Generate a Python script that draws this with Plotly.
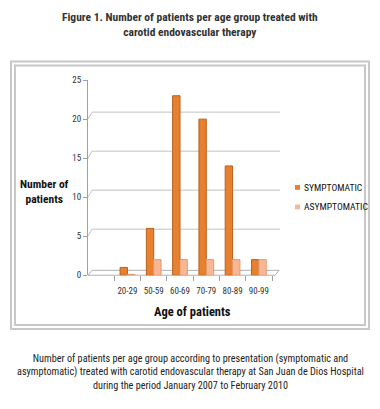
import plotly.graph_objects as go

W, H = 380, 409

categories = ["20-29", "50-59", "60-69", "70-79", "80-89", "90-99"]
symptomatic = [1, 6, 23, 20, 14, 2]
asymptomatic = [0.1, 2, 2, 2, 2, 2]
y_ticks = [0, 5, 10, 15, 20, 25]
series_names = ["SYMPTOMATIC", "ASYMPTOMATIC"]

COND = "Roboto Condensed, DejaVu Sans Condensed, sans-serif"

SYM_COLOR = "#E8812F"
SYM_EDGE = "#B9601C"
ASYM_COLOR = "#F8B794"
ASYM_EDGE = "#E6996E"
FRAME = "#c8c8c8"
GRID = "#c2c2c2"


def px(x):
    return x / W


def py(y):
    return 1 - y / H


fig = go.Figure()
fig.add_trace(go.Bar(
    x=categories, y=symptomatic, name=series_names[0],
    marker=dict(color=SYM_COLOR, line=dict(color=SYM_EDGE, width=1)),
))
fig.add_trace(go.Bar(
    x=categories, y=asymptomatic, name=series_names[1],
    marker=dict(color=ASYM_COLOR, line=dict(color=ASYM_EDGE, width=1)),
))

shapes = [
    # double frame
    dict(type="rect", xref="paper", yref="paper", x0=px(11), x1=px(369), y0=py(332), y1=py(58),
         line=dict(color=FRAME, width=2)),
    dict(type="rect", xref="paper", yref="paper", x0=px(15), x1=px(365), y0=py(328), y1=py(62),
         line=dict(color=FRAME, width=2)),
    # 3-D floor
    dict(type="path", xref="paper", yref="paper",
         path=f"M {px(88)} {py(277)} L {px(275)} {py(277)} L {px(279)} {py(272)} L {px(92)} {py(272)} Z",
         line=dict(color="#b0b0b0", width=1), layer="below"),
]
# back-wall gridlines, offset up from the front-axis ticks
for v in y_ticks[1:]:
    shapes.append(dict(type="line", xref="paper", yref="y", x0=px(92), x1=px(280),
                       ysizemode="pixel", yanchor=v, y0=7, y1=7,
                       line=dict(color=GRID, width=1), layer="below"))
    shapes.append(dict(type="line", xref="paper", yref="y", x0=px(88), x1=px(92),
                       ysizemode="pixel", yanchor=v, y0=0, y1=7,
                       line=dict(color=GRID, width=1), layer="below"))

# compact legend: small square keys right next to the labels
legend_colors = [SYM_COLOR, ASYM_COLOR]
legend_y = [187, 207]
annotations = []
for name, col, ly in zip(series_names, legend_colors, legend_y):
    shapes.append(dict(type="rect", xref="paper", yref="paper",
                       x0=px(295), x1=px(300), y0=py(ly + 2.5), y1=py(ly - 2.5),
                       fillcolor=col, line=dict(width=0)))
    annotations.append(dict(text=name, x=px(302), y=py(ly), xref="paper", yref="paper",
                            xanchor="left", yanchor="middle", showarrow=False,
                            font=dict(family=COND, size=9.6, color="#111111")))

annotations += [
    dict(text="<b>Figure 1. Number of patients per age group treated with<br>carotid endovascular therapy</b>",
         x=px(190), y=py(20.5), xref="paper", yref="paper", showarrow=False,
         xanchor="center", yanchor="middle",
         font=dict(family=COND, size=11.5, color="#333333"), align="center"),
    dict(text="<b>Number of<br>patients</b>", x=px(44), y=py(191), xref="paper", yref="paper",
         showarrow=False, xanchor="center", yanchor="middle",
         font=dict(family=COND, size=11.5, color="#111111"), align="center"),
    dict(text="<b>Age of patients</b>", x=px(192), y=py(314), xref="paper", yref="paper",
         showarrow=False, xanchor="center", yanchor="middle",
         font=dict(family=COND, size=12.5, color="#111111")),
    dict(text="Number of patients per age group according to presentation (symptomatic and<br>"
              "asymptomatic) treated with carotid endovascular therapy at San Juan de Dios Hospital<br>"
              "during the period January 2007 to February 2010",
         x=px(190), y=py(376), xref="paper", yref="paper", showarrow=False,
         xanchor="center", yanchor="middle",
         font=dict(family=COND, size=10.2, color="#222222"), align="center"),
]

fig.update_layout(
    width=W, height=H,
    margin=dict(l=0, r=0, t=0, b=0),
    paper_bgcolor="white", plot_bgcolor="rgba(0,0,0,0)",
    barmode="group", bargap=0.44, bargroupgap=0.0,
    shapes=shapes, annotations=annotations,
    showlegend=False,
    xaxis=dict(domain=[px(88), px(272)], range=[-1.5, 5.5], type="category",
               showline=False,
               ticks="outside", ticklen=5, tickcolor="#a0a0a0", tickson="boundaries",
               tickangle=0, ticklabelstandoff=9,
               tickfont=dict(family=COND, size=9, color="#333333"),
               showgrid=False, fixedrange=True),
    yaxis=dict(domain=[py(277), py(77)], range=[0, 25], tickvals=y_ticks,
               showline=True, linecolor="#a0a0a0", linewidth=1,
               ticks="outside", ticklen=4, tickcolor="#a0a0a0",
               tickfont=dict(family=COND, size=9, color="#333333"),
               showgrid=False, zeroline=False, fixedrange=True),
)

fig.write_html("out.html", config={"displayModeBar": False},
               post_script="document.body.style.margin='0px';")
